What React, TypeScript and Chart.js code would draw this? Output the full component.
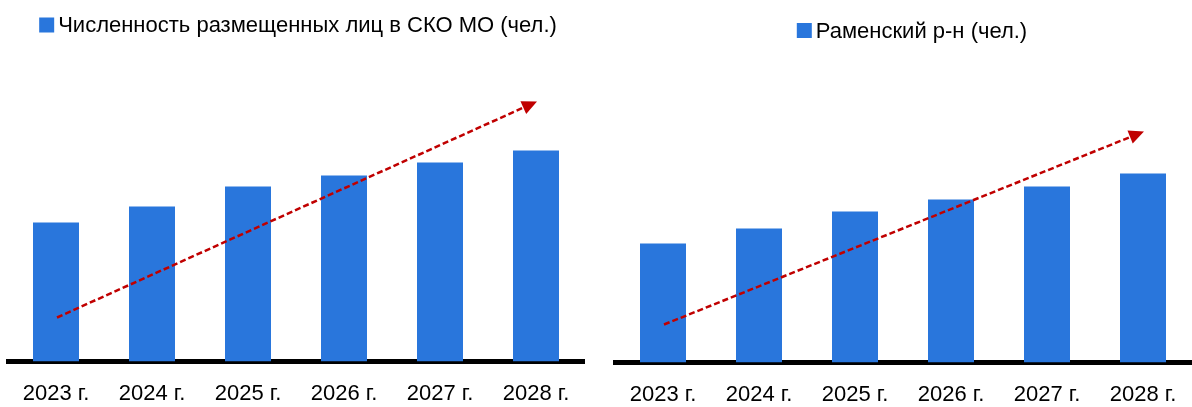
import React, { useEffect, useRef } from "react";
import { Chart, registerables } from "chart.js";

Chart.register(...registerables);

// ---- data ----
const years = ["2023 г.", "2024 г.", "2025 г.", "2026 г.", "2027 г.", "2028 г."];
const skoLabel = "Численность размещенных лиц в СКО МО (чел.)";
const skoValues = [139, 155, 175, 186, 199, 211];
const ramLabel = "Раменский р-н (чел.)";
const ramValues = [119, 134, 151, 163, 176, 189];
// trend arrows: [category index, value] start and end
const skoTrend = [[0, 44], [5, 260]];
const ramTrend = [[0, 38], [5, 231]];

const BAR_COLOR = "#2976DC";
const ARROW_COLOR = "#C00000";
const FONT = "'Liberation Sans', Arial, sans-serif";

const boxLegend = {
  id: "boxLegend",
  afterDraw(chart: any, _args: any, opts: any) {
    const { ctx } = chart;
    const ds = chart.data.datasets[0];
    ctx.save();
    ctx.font = `${opts.fontSize}px ${FONT}`;
    const tw = ctx.measureText(ds.label).width;
    const total = opts.boxW + opts.gap + tw;
    const x0 = opts.centerX - total / 2;
    ctx.fillStyle = ds.backgroundColor;
    ctx.fillRect(x0, opts.y - opts.boxH / 2, opts.boxW, opts.boxH);
    ctx.fillStyle = "#000";
    ctx.textBaseline = "middle";
    ctx.textAlign = "left";
    ctx.fillText(ds.label, x0 + opts.boxW + opts.gap, opts.y + 1);
    ctx.restore();
  },
};

const trendArrow = {
  id: "trendArrow",
  afterDatasetsDraw(chart: any, _args: any, opts: any) {
    const { ctx } = chart;
    const xs = chart.scales.x;
    const ys = chart.scales.y;
    const [[i0, v0], [i1, v1]] = opts.points;
    const x0 = xs.getPixelForValue(i0) + 1;
    const y0 = ys.getPixelForValue(v0);
    const x1 = xs.getPixelForValue(i1) + 1;
    const y1 = ys.getPixelForValue(v1);
    const ang = Math.atan2(y1 - y0, x1 - x0);
    const headLen = 15;
    const headHalf = 7;
    const bx = x1 - headLen * Math.cos(ang);
    const by = y1 - headLen * Math.sin(ang);
    ctx.save();
    ctx.strokeStyle = ARROW_COLOR;
    ctx.lineWidth = 2.5;
    ctx.setLineDash([6, 3]);
    ctx.beginPath();
    ctx.moveTo(x0, y0);
    ctx.lineTo(bx, by);
    ctx.stroke();
    ctx.setLineDash([]);
    ctx.fillStyle = ARROW_COLOR;
    ctx.beginPath();
    ctx.moveTo(x1, y1);
    ctx.lineTo(bx + headHalf * Math.sin(ang), by - headHalf * Math.cos(ang));
    ctx.lineTo(bx - headHalf * Math.sin(ang), by + headHalf * Math.cos(ang));
    ctx.closePath();
    ctx.fill();
    ctx.restore();
  },
};

type PanelProps = {
  left: number;
  width: number;
  label: string;
  values: number[];
  trend: number[][];
  pad: { left: number; right: number; top: number };
  axisHeight: number;
  legendY: number;
  legendCenterX: number;
};

function Panel(p: PanelProps) {
  const ref = useRef<HTMLCanvasElement | null>(null);
  useEffect(() => {
    if (!ref.current) return;
    const chart = new Chart(ref.current, {
      type: "bar",
      data: {
        labels: years,
        datasets: [
          {
            label: p.label,
            data: p.values,
            backgroundColor: BAR_COLOR,
            borderWidth: 0,
            barPercentage: 46 / 96,
            categoryPercentage: 1,
          },
        ],
      },
      options: {
        responsive: false,
        animation: false,
        layout: { padding: { left: p.pad.left, right: p.pad.right, top: p.pad.top, bottom: 0 } },
        plugins: {
          legend: { display: false },
          tooltip: { enabled: false },
          boxLegend: { fontSize: 22, boxW: 15, boxH: 15, gap: 4, y: p.legendY, centerX: p.legendCenterX },
          trendArrow: { points: p.trend },
        } as any,
        scales: {
          x: {
            z: 1,
            grid: { display: false, drawTicks: false },
            border: { display: true, color: "#000", width: 5 },
            ticks: { color: "#000", font: { family: FONT, size: 22 }, padding: 19, maxRotation: 0 },
            afterFit: (s: any) => {
              s.height = p.axisHeight;
            },
          },
          y: { display: false, min: 0, max: 280 },
        },
      },
      plugins: [boxLegend, trendArrow],
    });
    return () => chart.destroy();
  }, []);
  return (
    <canvas
      ref={ref}
      width={p.width}
      height={407}
      style={{ position: "absolute", left: p.left, top: 0, width: p.width, height: 407, display: "block" }}
    />
  );
}

export default function App() {
  return (
    <div style={{ position: "fixed", left: 0, top: 0, width: 1192, height: 407, background: "#fff", overflow: "hidden" }}>
      <Panel
        left={0}
        width={596}
        label={skoLabel}
        values={skoValues}
        trend={skoTrend}
        pad={{ left: 8, right: 12, top: 81.5 }}
        axisHeight={45.5}
        legendY={25}
        legendCenterX={298}
      />
      <Panel
        left={596}
        width={606}
        label={ramLabel}
        values={ramValues}
        trend={ramTrend}
        pad={{ left: 19, right: 11, top: 82.5 }}
        axisHeight={44.5}
        legendY={30.5}
        legendCenterX={316}
      />
    </div>
  );
}
